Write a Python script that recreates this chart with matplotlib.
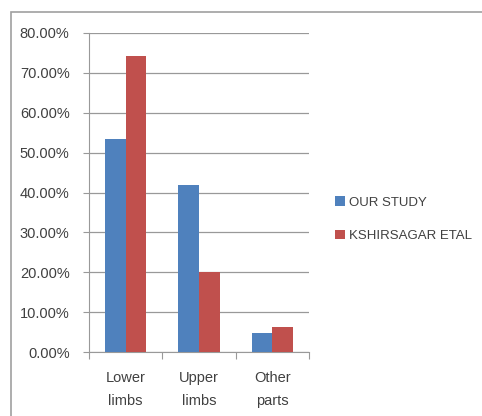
import matplotlib
matplotlib.use("Agg")
import matplotlib.pyplot as plt
import numpy as np
from matplotlib.patches import Rectangle
from matplotlib.ticker import FuncFormatter, FixedLocator

categories = ["Lower\nlimbs", "Upper\nlimbs", "Other\nparts"]
series_names = ["OUR STUDY", "KSHIRSAGAR ETAL"]
our_study = [53.4, 42.0, 4.7]
kshirsagar = [74.2, 20.0, 6.3]
colors = ["#4F81BD", "#C0504D"]

W, H = 482, 416
fig = plt.figure(figsize=(W/100, H/100), dpi=100)
fig.patch.set_facecolor("white")
plt.rcParams['font.family'] = ['Liberation Sans', 'DejaVu Sans']

# outer frame
fig.patches.append(Rectangle((11/W, -0.05), 1.2, 1 - 12/H + 0.05, transform=fig.transFigure,
                             fill=False, edgecolor="#A0A0A0", linewidth=1.2))

ax = fig.add_axes([89/W, 1-352/H, (309-89)/W, (352-33)/H])
x = np.arange(len(categories))
bw = 0.28
ax.bar(x - bw/2, our_study, bw, color=colors[0], label=series_names[0], zorder=3)
ax.bar(x + bw/2, kshirsagar, bw, color=colors[1], label=series_names[1], zorder=3)

ax.set_xlim(-0.5, 2.5)
ax.set_ylim(0, 80)
ax.yaxis.set_major_locator(FixedLocator(np.arange(0, 81, 10)))
ax.yaxis.set_major_formatter(FuncFormatter(lambda v, p: f"{v:.2f}%"))
ax.grid(axis='y', color="#999999", linewidth=0.9, zorder=0)
ax.set_xticks([-0.5, 0.5, 1.5, 2.5])
ax.set_xticklabels([])
ax.set_xticks(x, minor=True)
ax.set_xticklabels(categories, minor=True, fontsize=10.5, color="#404040", linespacing=1.75)
ax.tick_params(axis='x', which='minor', length=0, pad=14)
ax.tick_params(axis='x', which='major', length=5, color="#999999", direction='out')
ax.tick_params(axis='y', length=4, color="#999999", labelsize=10.5, labelcolor="#404040", pad=10)
for s in ['top', 'right']:
    ax.spines[s].set_visible(False)
for s in ['left', 'bottom']:
    ax.spines[s].set_color("#999999")
ax.set_axisbelow(True)

leg = fig.legend(loc='upper left', bbox_to_anchor=(330/W, 1-191/H), frameon=False,
                 fontsize=9.5, handlelength=0.7, handleheight=0.7, handletextpad=0.35,
                 labelspacing=1.6, borderaxespad=0)
for t in leg.get_texts():
    t.set_color("#404040")

fig.savefig("out.png", dpi=100)
